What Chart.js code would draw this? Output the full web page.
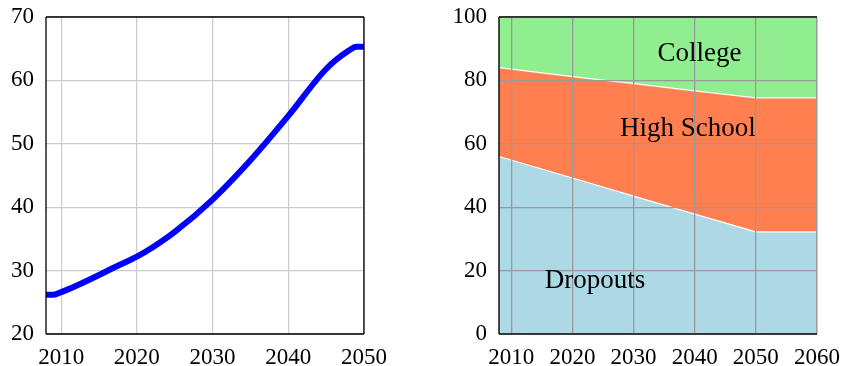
<!DOCTYPE html>
<html><head><meta charset="utf-8">
<script src="https://cdn.jsdelivr.net/npm/chart.js@4"></script>
<style>
html,body{margin:0;padding:0;background:#fff;}
#wrap{position:relative;width:841px;height:366px;overflow:hidden;}
#c1{position:absolute;left:0;top:0;}
#c2{position:absolute;left:420px;top:0;}
</style></head><body>
<div id="wrap">
<canvas id="c1" width="420" height="366"></canvas>
<canvas id="c2" width="421" height="366"></canvas>
</div>
<script>
// ---- Left chart data ----
const lineYears  = [2008, 2009, 2010, 2012, 2015, 2017, 2020, 2022, 2025, 2030, 2035, 2040, 2045, 2048, 2049, 2050];
const lineValues = [26.2, 26.2, 26.6, 27.6, 29.3, 30.5, 32.2, 33.6, 36.1, 41.2, 47.4, 54.4, 61.8, 64.7, 65.3, 65.3];
const lineXTicks = [2010, 2020, 2030, 2040, 2050];
const lineYTicks = [20, 30, 40, 50, 60, 70];

// ---- Right chart data ----
const areaYears  = [2008, 2020, 2030, 2040, 2050, 2060];
const dropouts   = [56.0, 49.2, 43.5, 37.8, 32.2, 32.2];
const highSchool = [28.0, 32.0, 35.5, 38.9, 42.3, 42.3];
const college    = [16.0, 18.8, 21.0, 23.3, 25.5, 25.5];
const areaXTicks = [2010, 2020, 2030, 2040, 2050, 2060];
const areaYTicks = [0, 20, 40, 60, 80, 100];
const areaNames  = ['Dropouts', 'High School', 'College'];
const areaLabelAnchors = [[2023.7, 16.7], [2038.9, 64.6], [2040.8, 88.2]];

const FONT = "'Liberation Serif', 'Times New Roman', serif";
const tickFont = {family: FONT, size: 23};

function fixTicks(list) {
  return scale => { scale.ticks = list.map(v => ({value: v})); };
}
function fitX(h) {
  return s => { s.height = h; s.paddingLeft = 0; s.paddingRight = 0; s.paddingTop = 0; s.paddingBottom = 0; };
}
function fitY(w) {
  return s => { s.width = w; s.paddingLeft = 0; s.paddingRight = 0; s.paddingTop = 0; s.paddingBottom = 0; };
}

const framePlugin = {
  id: 'frame',
  afterDraw(chart, args, opts) {
    const a = chart.chartArea, ctx = chart.ctx;
    ctx.save();
    ctx.strokeStyle = opts.color || '#000';
    ctx.lineWidth = opts.width || 1.3;
    ctx.beginPath();
    const sides = opts.sides || ['top','right','bottom','left'];
    if (sides.includes('top')) { ctx.moveTo(a.left, a.top); ctx.lineTo(a.right, a.top); }
    if (sides.includes('right')) { ctx.moveTo(a.right, a.top); ctx.lineTo(a.right, a.bottom); }
    if (sides.includes('bottom')) { ctx.moveTo(a.left, a.bottom); ctx.lineTo(a.right, a.bottom); }
    if (sides.includes('left')) { ctx.moveTo(a.left, a.top); ctx.lineTo(a.left, a.bottom); }
    ctx.stroke();
    ctx.restore();
  }
};

// Left: line chart
new Chart(document.getElementById('c1'), {
  type: 'line',
  data: {
    datasets: [{
      data: lineYears.map((x, i) => ({x, y: lineValues[i]})),
      borderColor: '#0000ff',
      borderWidth: 6,
      pointRadius: 0,
      fill: false,
      cubicInterpolationMode: 'monotone',
      borderCapStyle: 'butt'
    }]
  },
  options: {
    responsive: false,
    animation: false,
    layout: {padding: {left: 0, right: 56, top: 17, bottom: 0}},
    plugins: {legend: {display: false}, tooltip: {enabled: false}, frame: {sides: ['top','right','bottom','left'], color: '#000', width: 1.3}},
    scales: {
      x: {
        type: 'linear', min: 2008, max: 2050,
        afterBuildTicks: fixTicks(lineXTicks),
        afterFit: fitX(32),
        grid: {color: '#cccccc', lineWidth: 1.2, drawTicks: false},
        border: {display: false},
        ticks: {font: tickFont, color: '#000', padding: 10, maxRotation: 0, callback: v => String(v)}
      },
      y: {
        type: 'linear', min: 20, max: 70,
        afterBuildTicks: fixTicks(lineYTicks),
        afterFit: fitY(46),
        grid: {color: '#cccccc', lineWidth: 1.2, drawTicks: false},
        border: {display: false},
        ticks: {font: tickFont, color: '#000', padding: 12}
      }
    }
  },
  plugins: [framePlugin]
});

// Right: stacked area chart
const gridOnTop = {
  id: 'gridOnTop',
  afterDatasetsDraw(chart) {
    chart.scales.x.drawGrid(chart.chartArea);
    chart.scales.y.drawGrid(chart.chartArea);
    const ctx = chart.ctx;
    ctx.save();
    ctx.fillStyle = '#000';
    ctx.font = "27px " + FONT;
    ctx.textAlign = 'center';
    ctx.textBaseline = 'middle';
    areaNames.forEach((name, i) => {
      const [xv, yv] = areaLabelAnchors[i];
      ctx.fillText(name, chart.scales.x.getPixelForValue(xv), chart.scales.y.getPixelForValue(yv));
    });
    ctx.restore();
  }
};

new Chart(document.getElementById('c2'), {
  type: 'line',
  data: {
    datasets: [
      {label: areaNames[0], data: areaYears.map((x, i) => ({x, y: dropouts[i]})),
       backgroundColor: '#add8e6', borderColor: '#ffffff', borderWidth: 1.2, fill: 'origin', pointRadius: 0, tension: 0},
      {label: areaNames[1], data: areaYears.map((x, i) => ({x, y: highSchool[i]})),
       backgroundColor: '#ff7f50', borderColor: '#ffffff', borderWidth: 1.2, fill: '-1', pointRadius: 0, tension: 0},
      {label: areaNames[2], data: areaYears.map((x, i) => ({x, y: college[i]})),
       backgroundColor: '#90ee90', borderColor: '#90ee90', borderWidth: 0, fill: '-1', pointRadius: 0, tension: 0}
    ]
  },
  options: {
    responsive: false,
    animation: false,
    layout: {padding: {left: 0, right: 24, top: 17, bottom: 0}},
    plugins: {legend: {display: false}, tooltip: {enabled: false}, filler: {propagate: false},
      frame: {sides: ['top','bottom','left'], color: '#111', width: 1.5}},
    scales: {
      x: {
        type: 'linear', min: 2008, max: 2060,
        afterBuildTicks: fixTicks(areaXTicks),
        afterFit: fitX(32),
        grid: {color: '#999999', lineWidth: 1.3, drawTicks: false},
        border: {display: false},
        ticks: {font: tickFont, color: '#000', padding: 10, maxRotation: 0, callback: v => String(v)}
      },
      y: {
        type: 'linear', min: 0, max: 100, stacked: true,
        afterBuildTicks: fixTicks(areaYTicks),
        afterFit: fitY(79),
        grid: {color: '#999999', lineWidth: 1.3, drawTicks: false},
        border: {display: false},
        ticks: {font: tickFont, color: '#000', padding: 12}
      }
    }
  },
  plugins: [gridOnTop, framePlugin]
});
</script>
</body></html>
